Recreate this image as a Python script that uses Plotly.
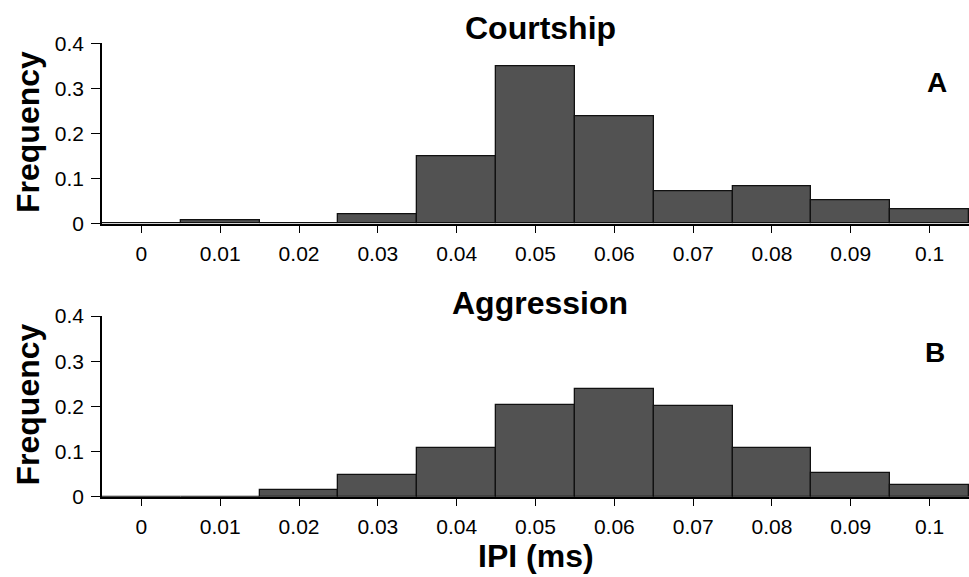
import plotly.graph_objects as go

W, H = 969, 577

bin_centers = [0.0, 0.01, 0.02, 0.03, 0.04, 0.05, 0.06, 0.07, 0.08, 0.09, 0.10]
x_tick_labels = ["0", "0.01", "0.02", "0.03", "0.04", "0.05", "0.06", "0.07", "0.08", "0.09", "0.1"]
y_tick_vals = [0, 0.1, 0.2, 0.3, 0.4]
y_tick_labels = ["0", "0.1", "0.2", "0.3", "0.4"]

courtship_freq = [0.0, 0.007, 0.001, 0.020, 0.149, 0.349, 0.239, 0.071, 0.084, 0.052, 0.032]
aggression_freq = [0.0, 0.0, 0.014, 0.049, 0.108, 0.204, 0.239, 0.200, 0.108, 0.052, 0.026]

panel_titles = ["Courtship", "Aggression"]
panel_letters = ["A", "B"]
y_title = "Frequency"
x_title = "IPI (ms)"

FONT = "Liberation Sans, Arial, sans-serif"
BAR_COLOR = "#525252"

fig = go.Figure()

fig.add_trace(go.Bar(x=bin_centers, y=courtship_freq, width=0.01,
                     marker=dict(color=BAR_COLOR, line=dict(color="#111111", width=1.3)),
                     xaxis="x", yaxis="y", showlegend=False))
fig.add_trace(go.Bar(x=bin_centers, y=aggression_freq, width=0.01,
                     marker=dict(color=BAR_COLOR, line=dict(color="#111111", width=1.3)),
                     xaxis="x2", yaxis="y2", showlegend=False))

x_dom = [102 / W, 1.0]
top_dom = [1 - 223.7 / H, 1 - 43.3 / H]
bot_dom = [1 - 496.7 / H, 1 - 316.0 / H]

xaxis_common = dict(
    range=[-0.005, 0.105], tickmode="array", tickvals=bin_centers, ticktext=x_tick_labels,
    ticks="outside", ticklen=8, tickwidth=1.3, tickcolor="black",
    showline=True, linecolor="black", linewidth=1.5,
    showgrid=False, zeroline=False, automargin=False, ticklabelstandoff=2,
    tickfont=dict(family=FONT, size=21, color="black"),
)
yaxis_common = dict(
    range=[0, 0.4], tickmode="array", tickvals=y_tick_vals, ticktext=y_tick_labels,
    ticks="outside", ticklen=9, tickwidth=1.3, tickcolor="black",
    showline=True, linecolor="black", linewidth=1.5,
    showgrid=False, zeroline=False, automargin=False, ticklabelstandoff=3,
    tickfont=dict(family=FONT, size=21, color="black"),
)

annotations = []
# panel titles
for title, ypix in zip(panel_titles, [27.5, 303.3]):
    annotations.append(dict(text=f"<b>{title}</b>", x=540 / W, y=1 - ypix / H,
                            xref="paper", yref="paper", xanchor="center", yanchor="middle",
                            showarrow=False, font=dict(family=FONT, size=32, color="black")))
# panel letters
for letter, (xp, yp) in zip(panel_letters, [(937, 82), (935, 353)]):
    annotations.append(dict(text=f"<b>{letter}</b>", x=xp / W, y=1 - yp / H,
                            xref="paper", yref="paper", xanchor="center", yanchor="middle",
                            showarrow=False, font=dict(family=FONT, size=28, color="black")))
# y titles
for yp in [132.5, 405]:
    annotations.append(dict(text=f"<b>{y_title}</b>", x=27.5 / W, y=1 - yp / H,
                            xref="paper", yref="paper", xanchor="center", yanchor="middle",
                            textangle=-90, showarrow=False,
                            font=dict(family=FONT, size=32, color="black")))
# x title
annotations.append(dict(text=f"<b>{x_title}</b>", x=535.5 / W, y=1 - 556 / H,
                        xref="paper", yref="paper", xanchor="center", yanchor="middle",
                        showarrow=False, font=dict(family=FONT, size=32, color="black")))

fig.update_layout(
    template="none",
    width=W, height=H, autosize=False,
    margin=dict(l=0, r=0, t=0, b=0, pad=0),
    paper_bgcolor="white", plot_bgcolor="white",
    bargap=0,
    xaxis=dict(domain=x_dom, anchor="y", **xaxis_common),
    yaxis=dict(domain=top_dom, anchor="x", **yaxis_common),
    xaxis2=dict(domain=x_dom, anchor="y2", **xaxis_common),
    yaxis2=dict(domain=bot_dom, anchor="x2", **yaxis_common),
    annotations=annotations,
    font=dict(family=FONT, color="black"),
)

fig.write_html("out.html")
